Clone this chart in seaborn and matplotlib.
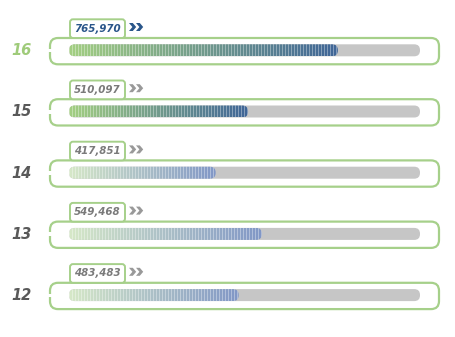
import numpy as np
import pandas as pd
import matplotlib
matplotlib.use("Agg")
import matplotlib.pyplot as plt
import seaborn as sns
from matplotlib.patches import FancyBboxPatch, Polygon, Rectangle
from matplotlib.colors import to_rgb

# ---- data ----
categories = ["16", "15", "14", "13", "12"]
values = [765970, 510097, 417851, 549468, 483483]
track_max = 1000000
highlight = [2, 1, 0, 0, 0]   # 2 = selected, 1 = strong, 0 = faded

# ---- styling ----
W, H = 456, 337
GREEN = "#a6d08a"
TRACK = "#c6c6c6"
grad_strong = ("#a3cf82", "#3f6597")
grad_faint = ("#d6e8c8", "#8197c6")

sns.set_theme(style="white")
plt.rcParams["font.family"] = ["DejaVu Sans"]

fig = plt.figure(figsize=(W / 100, H / 100), dpi=100)
ax2 = fig.add_axes([0, 0, 1, 1])
ax2.set_xlim(0, W)
ax2.set_ylim(H, 0)
ax2.axis("off")

ax = fig.add_axes([0, 0, 1, 1])
ax.patch.set_alpha(0)

df = pd.DataFrame({"row": categories, "value": values, "track": [track_max] * len(values)})
bar_w = 12 / 61.2
sns.barplot(data=df, x="track", y="row", order=categories, color=TRACK,
            width=bar_w, ax=ax, orient="h")
sns.barplot(data=df, x="value", y="row", order=categories, color="#7fa0b0",
            width=bar_w, ax=ax, orient="h")

# pixel mapping: value 0 -> px 69, track_max -> px 420; row centres 50.3 + 61.2*i
px_x = track_max / 351.0
px_y = 1 / 61.2
ax.set_xlim(-69 * px_x, (W - 69) * px_x)
ax.set_ylim((H - 50.3) * px_y, -50.3 * px_y)
ax.axis("off")

n = len(categories)
patches = list(ax.patches)
track_patches = patches[:n]
value_patches = patches[n:2 * n]


def rounded(p, **kw):
    return FancyBboxPatch((p.get_x(), p.get_y()), p.get_width(), p.get_height(),
                          boxstyle=f"round,pad=0,rounding_size={5.8 * px_x}",
                          mutation_aspect=px_y / px_x, **kw)


for p in track_patches:
    rp = rounded(p, fc=TRACK, ec="none", zorder=2)
    ax.add_patch(rp)
    p.set_visible(False)

for i, p in enumerate(value_patches):
    rp = rounded(p, fc="none", ec="none", zorder=3)
    ax.add_patch(rp)
    p.set_visible(False)
    c0, c1 = grad_strong if highlight[i] >= 1 else grad_faint
    c0, c1 = np.array(to_rgb(c0)), np.array(to_rgb(c1))
    ncol = max(int(round(p.get_width() / px_x)), 2)
    t = np.linspace(0, 1, ncol)[:, None]
    cols = c0 * (1 - t) + c1 * t
    stripe = (np.arange(ncol) % 3 == 0)[:, None]
    cols = np.where(stripe, cols * 0.65 + 0.35, cols)
    img = cols[None, :, :]
    x0 = p.get_x()
    y0 = p.get_y()
    im = ax.imshow(img, extent=(x0, x0 + p.get_width(), y0 + p.get_height(), y0),
                   aspect="auto", interpolation="nearest", zorder=3)
    im.set_clip_path(rp)

ax.set_xlim(-69 * px_x, (W - 69) * px_x)
ax.set_ylim((H - 50.3) * px_y, -50.3 * px_y)

# ---- decorations in pixel space ----
for i, cat in enumerate(categories):
    c = H - ax.transData.transform((0, i))[1]
    sel = highlight[i] == 2
    # outline
    ax2.add_patch(FancyBboxPatch((50, c - 12.3), 389, 26.3,
                                 boxstyle="round,pad=0,rounding_size=8",
                                 fc="none", ec=GREEN, lw=1.6, zorder=1))
    ax2.add_patch(Rectangle((47.5, c - 1.5), 5, 3.5, fc="white", ec="none", zorder=1.5))
    # tab
    ax2.add_patch(FancyBboxPatch((70, c - 31), 55, 18.7,
                                 boxstyle="round,pad=0,rounding_size=3",
                                 fc="white", ec=GREEN, lw=1.4, zorder=2))
    txt_col = "#2a568a" if sel else "#7a7a7a"
    ax2.text(97.5, c - 21.6, f"{values[i]:,}", ha="center", va="center",
             fontsize=7.4, fontweight="bold", style="italic", color=txt_col, zorder=3)
    # chevrons
    cy = c - 23.3
    chev_col = "#2a568a" if sel else "#999999"
    for x in (129, 136):
        ax2.add_patch(Polygon([(x, cy - 4), (x + 3.8, cy - 4), (x + 7.2, cy),
                               (x + 3.8, cy + 4), (x, cy + 4), (x + 3.4, cy)],
                              closed=True, fc=chev_col, ec="none", zorder=3))
    # row label
    ax2.text(22, c + 0.5, cat, ha="center", va="center", fontsize=10.5,
             fontweight="bold", style="italic",
             color="#9fcb7a" if sel else "#595959", zorder=3)

fig.savefig("out.png", dpi=100)
